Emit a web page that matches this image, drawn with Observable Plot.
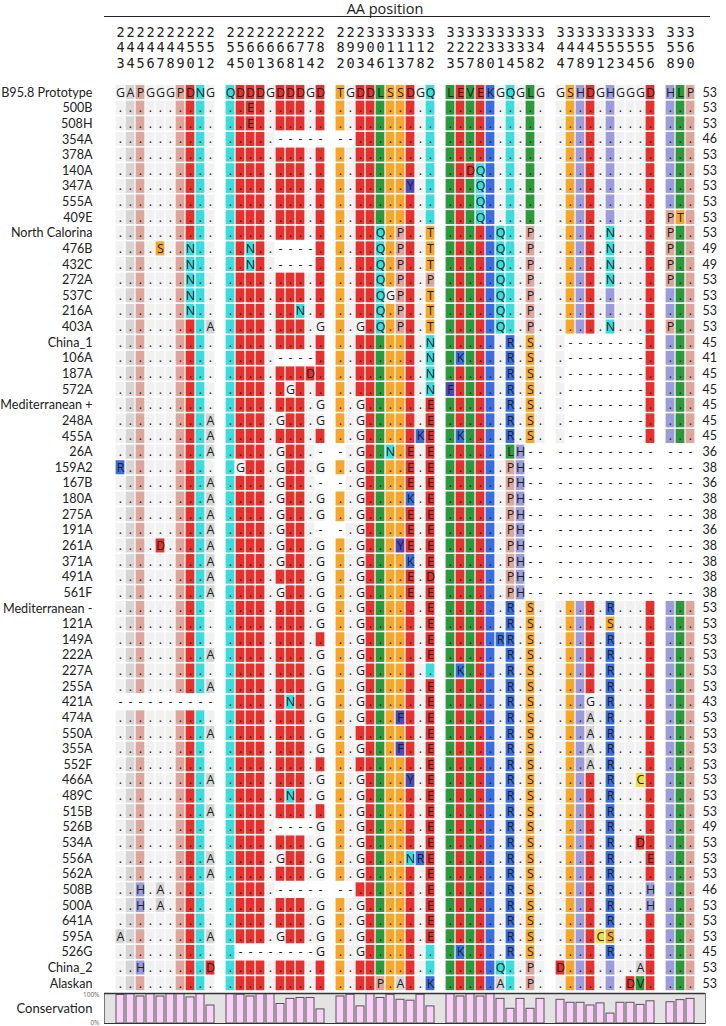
<!DOCTYPE html>
<html>
<head>
<meta charset="utf-8">
<script src="https://cdn.jsdelivr.net/npm/d3@7"></script>
<script src="https://cdn.jsdelivr.net/npm/@observablehq/plot@0.6"></script>
<style>
  html, body { margin: 0; padding: 0; background: #fff; }
  body { width: 726px; font-family: "Open Sans", "Noto Sans", sans-serif; }
  #title { box-sizing: border-box; margin-left: 104px; width: 606px; height: 17px;
           font-size: 14.5px; line-height: 17px; text-align: center; padding-right: 44px;
           border-bottom: 1.5px solid #222; color: #222; overflow: visible; }
  svg { display: block; }
</style>
</head>
<body>
<div id="title">AA position</div>
<div id="main"></div>
<div id="cons"></div>
<script>
// ---------------- DATA ----------------
const groupSizes = [10, 10, 10, 10, 10, 3];
const posDigits1 = ["2222222222", "2222222222", "2223333333", "3333333333", "3333333333", "333"];
const posDigits2 = ["4444444555", "5566666778", "8990011112", "2222333334", "4444555555", "556"];
const posDigits3 = ["3456789012", "4501368142", "2034613782", "3578014582", "4789123456", "890"];

const reference = "GAPGGGPDNG QDDDGDDDGD TGDDLSSDGQ LEVEKGQGLG GSHDGHGGGD HLP";

const strains = [
  "B95.8 Prototype", "500B", "508H", "354A", "378A", "140A", "347A", "555A", "409E",
  "North Calorina", "476B", "432C", "272A", "537C", "216A", "403A", "China_1", "106A",
  "187A", "572A", "Mediterranean +", "248A", "455A", "26A", "159A2", "167B", "180A",
  "275A", "191A", "261A", "371A", "491A", "561F", "Mediterranean -", "121A", "149A",
  "222A", "227A", "255A", "421A", "474A", "550A", "355A", "552F", "466A", "489C",
  "515B", "526B", "534A", "556A", "562A", "508B", "500A", "641A", "595A", "526G",
  "China_2", "Alaskan"
];

const counts = [
  53, 53, 53, 46, 53, 53, 53, 53, 53, 53, 49, 49, 53, 53, 53, 53, 45, 41, 45, 45, 45, 45,
  45, 36, 38, 36, 38, 38, 36, 38, 38, 38, 38, 53, 53, 53, 53, 53, 53, 43, 53, 53, 53, 53,
  53, 53, 53, 49, 53, 53, 53, 46, 53, 53, 53, 45, 53, 53
];

const sequences = [
  reference,
  ".......... ..E....... .......... .......... .......... ...",
  ".......... ..E....... .......... .......... .......... ...",
  ".......... .....----- --........ .......... .......... ...",
  ".......... .......... .......... .......... .......... ...",
  ".......... .......... .......... ..DQ...... .......... ...",
  ".......... .......... .......Y.. ...Q...... .......... ...",
  ".......... .......... .......... ...Q...... .......... ...",
  ".......... .......... .......... ...Q...... .......... PT.",
  ".......... .......... ....Q.P..T .....Q..P. .....N.... P..",
  "....S..N.. ..N..----. ....Q.P..T .....Q..P. .....N.... P..",
  ".......N.. ..N..----. ....Q.P..T .....Q..P. .....N.... P..",
  ".......N.. .......... ....Q.P..P .....Q..P. .....N.... P..",
  ".......N.. .......... ....QGP..T .....Q..P. .......... ...",
  ".......N.. .......N.. ....Q.P..T .....Q..P. .......... ...",
  ".........A .........G ..G.Q.P..T .....Q..P. .....N.... P..",
  ".......... .......... .........N ......R.S. .--------. ...",
  ".......... .....----. .........N .K....R.S. .--------. ...",
  ".......... ........D. .........N ......R.S. .--------. ...",
  ".......... ......G... .........N F.....R.S. .--------. ...",
  ".......... .........G ..G......E ......R.S. .--------. ...",
  ".........A .....G...G ..G......E ......R.S. .--------. ...",
  ".........A .......... ..G.....KE .K....R.S. .--------. ...",
  ".........A .....G...- -.G..N.E.E ......LH-- ---------- ---",
  "R......... .G...G...G ..G....E.E ......PH-- ---------- ---",
  ".........A .....G...- -.G....E.E ......PH-- ---------- ---",
  ".........A .....G...G ..G....K.E ......PH-- ---------- ---",
  ".........A .....G...G ..G....E.E ......PH-- ---------- ---",
  ".........A .....G...- -.G....E.E ......PH-- ---------- ---",
  "....D....A .....G...G ..G...YE.E ......PH-- ---------- ---",
  ".........A .....G...G ..G....K.E ......PH-- ---------- ---",
  ".........A .........G ..G....E.D ......PH-- ---------- ---",
  ".........A .....G...G ..G....E.E ......PH-- ---------- ---",
  ".......... .........G ..G......E ......R.S. .....R.... ...",
  ".......... .........G ..G......E ......R.S. .....S.... ...",
  ".......... .......... ..G......E .....RR.S. .....R.... ...",
  ".........A .........G ..G......E ......R.S. .....R.... ...",
  ".......... .........G ..G....... .K....R.S. .....R.... ...",
  ".........A .........G ..G......E ......R.S. .....R.... ...",
  "---------- ......N..G ..G......E ......R.S. ...G.R.... ...",
  ".......... .........G ..G...F..E ......R.S. ...A.R.... ...",
  ".........A .........G .........E ......R.S. ...A.R.... ...",
  ".......... .........G ..G...F..E ......R.S. ...A.R.... ...",
  ".......... .......... .........E ......R.S. ...A.R.... ...",
  ".........A .........G ..G....Y.E ......R.S. .....R..C. ...",
  ".......... ......N..G ..G......E ......R.S. .....R.... ...",
  ".........A .......... ..G......E ......R.S. .....R.... ...",
  ".......... .....----G ..G......E ......R.S. .....R.... ...",
  ".......... .........G ..G......E ......R.S. .....R..D. ...",
  ".........A .....G...G ..G....NRE ......R.S. .....R...E ...",
  ".........A .........G ..G......E ......R.S. .....R.... ...",
  "..H.A..... .....----- --.......E ......R.S. .....R...H ...",
  "..H.A..... .........G ..G......E ......R.S. .....R...H ...",
  ".......... .........G ..G......E ......R.S. .....R.... ...",
  "A........A .....G...G ..G......E ......R.S. ....CS.... ...",
  ".......... .--------G ..G....... .K....R.S. .....R.... ...",
  "..H......D .......... .......... .....Q..P. D.......A. ...",
  ".......... .......... ....P.A..K .....A..P. .......DV. ..."
];

// conservation (%) per column
const conservation = [
  95, 98, 90, 98, 90, 98, 98, 87, 98, 60,
  98, 96, 90, 98, 98, 65, 82, 85, 85, 47,
  90, 96, 57, 98, 85, 96, 79, 76, 96, 57,
  98, 90, 98, 90, 98, 82, 49, 82, 49, 82,
  79, 69, 69, 60, 67, 33, 69, 69, 62, 74,
  71, 78, 82
];

// residue colours (Clustal-like scheme)
const aaColors = {
  A: "#d5d5d5", P: "#dda59b", D: "#e5322f", E: "#e5322f", N: "#3adcdc", Q: "#3adcdc",
  S: "#f6a62b", T: "#f6a62b", L: "#2c9a3c", V: "#2c9a3c", I: "#2c9a3c", M: "#2c9a3c",
  K: "#3a6ee0", R: "#3a6ee0", H: "#9c9cdc", Y: "#4a4abd", F: "#4a4abd", W: "#4a4abd",
  C: "#efe046", G: "#f1f1f1"
};

// ---------------- BUILD ----------------
const slotDomain = [];   // columns with gap slots between groups
const colSlot = [];
let ci = 0;
groupSizes.forEach((n, g) => {
  for (let k = 0; k < n; k++) { const s = "c" + ci; slotDomain.push(s); colSlot.push(s); ci++; }
  slotDomain.push("gap" + g);
});
const mainXDomain = [...slotDomain, "cnt"];
const consXDomain = slotDomain.slice(0, slotDomain.length - 1);

const refChars = reference.replace(/ /g, "").split("");
const d1 = posDigits1.join("").split(""), d2 = posDigits2.join("").split(""), d3 = posDigits3.join("").split("");
const header = [];
colSlot.forEach((s, i) => {
  header.push({x: s, y: "h1", t: d1[i]});
  header.push({x: s, y: "h2", t: d2[i]});
  header.push({x: s, y: "h3", t: d3[i]});
});

const cells = [];
strains.forEach((name, r) => {
  const chars = sequences[r].replace(/ /g, "").split("");
  chars.forEach((ch, i) => {
    const residue = ch === "." ? refChars[i] : ch;
    cells.push({
      x: colSlot[i], y: name, ch,
      fill: ch === "-" ? null : (aaColors[residue] || "#f1f1f1")
    });
  });
});
const rows = strains.map((name, r) => ({name, count: counts[r]}));
const consData = conservation.map((v, i) => ({x: colSlot[i], v}));

const yDomain = ["h1", "h2", "h3", "sp", ...strains];
const FONT = "Open Sans, Noto Sans, sans-serif";
const LABEL_FONT = "Lato, Open Sans, sans-serif";

const main = Plot.plot({
  width: 726, height: 974,
  marginLeft: 104, marginRight: 0.4, marginTop: 4.7, marginBottom: 0,
  x: {type: "band", domain: mainXDomain, padding: 0, axis: null},
  y: {type: "band", domain: yDomain, padding: 0, axis: null},
  color: {type: "identity"},
  style: {fontFamily: FONT, background: "white"},
  marks: [
    Plot.cell(cells.filter(d => d.fill), {
      x: "x", y: "y", fill: "fill",
      insetLeft: 0.6, insetRight: 0.6, insetTop: 0.8, insetBottom: 0.8
    }),
    Plot.text(cells, {x: "x", y: "y", text: "ch", fontSize: 12.5, fill: "#1e1e1e"}),
    Plot.text(header, {x: "x", y: "y", text: "t", fontSize: 13.5, dy: 2.5,
      fontFamily: "DejaVu Sans Mono, monospace", fill: "#222"}),
    Plot.text(rows, {y: "name", text: "name", frameAnchor: "left", dx: -12,
      textAnchor: "end", fontSize: 12.6, fontFamily: LABEL_FONT, fill: "#222"}),
    Plot.text(rows, {x: () => "gap5", y: "name", text: "count", dx: 2,
      textAnchor: "start", fontSize: 12.5, fontFamily: LABEL_FONT, fill: "#222"})
  ]
});
document.getElementById("main").appendChild(main);

const cons = Plot.plot({
  width: 726, height: 35,
  marginLeft: 104, marginRight: 21, marginTop: 2, marginBottom: 3,
  x: {type: "band", domain: consXDomain, padding: 0, axis: null},
  y: {domain: [0, 100], axis: null},
  style: {fontFamily: FONT, background: "white"},
  marks: [
    Plot.frame({fill: "#e3e3e3", stroke: "#777"}),
    Plot.barY(consData, {x: "x", y: "v", fill: "#fbd0f9", stroke: "#555",
      strokeWidth: 1, insetLeft: 1, insetRight: 1}),
    Plot.ruleY([100], {stroke: "#333", strokeWidth: 1.5}),
    Plot.ruleY([0], {stroke: "#333", strokeWidth: 1}),
    Plot.text(["100%"], {y: () => 100, text: d => d, frameAnchor: "left", dx: -5,
      textAnchor: "end", fontSize: 6.5, fill: "#666", dy: 1}),
    Plot.text(["0%"], {y: () => 0, text: d => d, frameAnchor: "left", dx: -5,
      textAnchor: "end", fontSize: 6.5, fill: "#666", dy: -1}),
    Plot.text(["Conservation"], {text: d => d, frameAnchor: "left", dx: -12,
      textAnchor: "end", fontSize: 13, fontFamily: LABEL_FONT, fill: "#222"})
  ]
});
document.getElementById("cons").appendChild(cons);
</script>
</body>
</html>
